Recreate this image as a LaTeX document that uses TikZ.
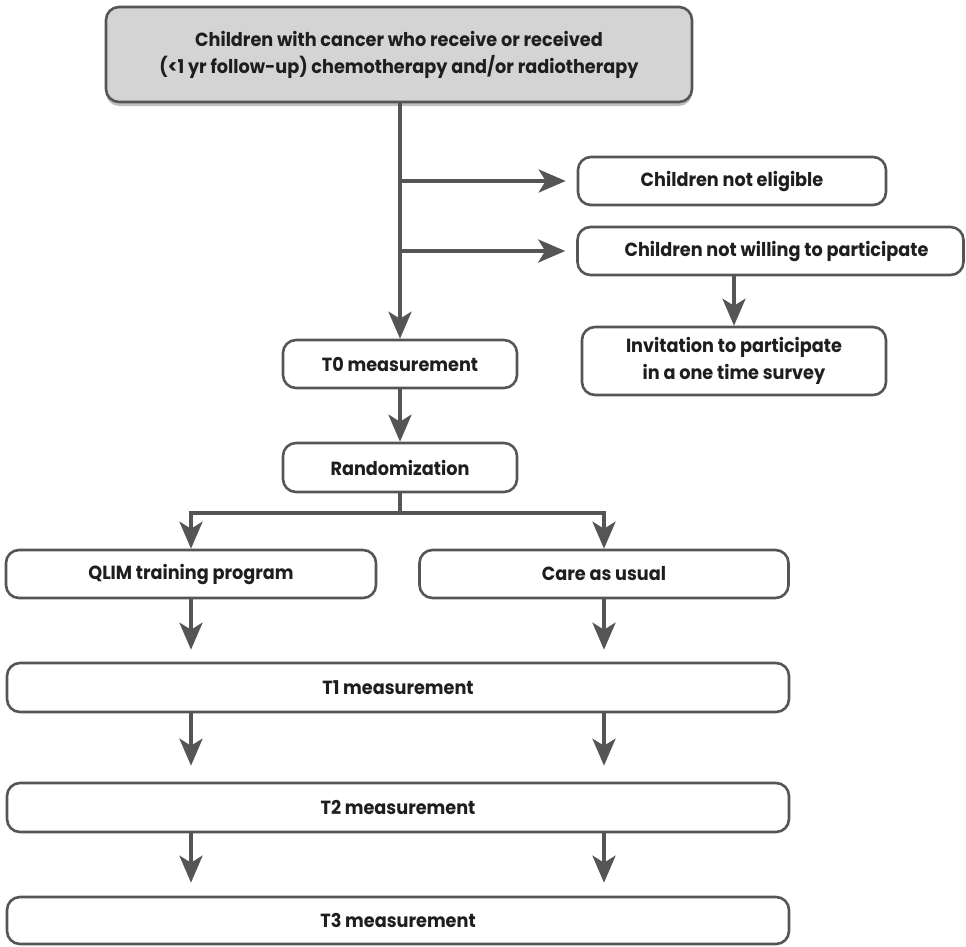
\documentclass[tikz,border=0pt]{standalone}
\usepackage{fontspec}
\newfontfamily\boxfont{Poppins}[FakeStretch=0.93]
\usetikzlibrary{arrows.meta,shadows}
\definecolor{lc}{HTML}{555555}
\definecolor{fillg}{HTML}{D4D4D4}
\definecolor{tc}{HTML}{1E1E1E}
\tikzset{
  box/.style={draw=lc, line width=2.6pt, rounded corners=13pt, fill=white, align=center,
    inner sep=0pt, text=tc, font=\boxfont\bfseries\fontsize{19}{27}\selectfont},
  conn/.style={draw=lc, line width=4pt},
  arr/.style={conn, -{Stealth[length=27pt,width=23pt,inset=7pt]}},
}
\begin{document}
\begin{tikzpicture}[x=1pt,y=-1pt]
\useasboundingbox (0,0) rectangle (966,946);
\node[box, fill=fillg, minimum width=586pt, minimum height=95pt,
  drop shadow={shadow xshift=0pt, shadow yshift=-4pt, opacity=0.25, fill=black}]
  (top) at (399,54.5) {Children with cancer who receive or received\\(<1 yr follow-up) chemotherapy and/or radiotherapy};
\node[box, minimum width=308pt, minimum height=48pt] (elig) at (732,181) {Children not eligible};
\node[box, minimum width=386pt, minimum height=48pt] (will) at (770.5,251) {\hspace*{12pt}Children not willing to participate};
\node[box, minimum width=304pt, minimum height=68pt] (inv) at (734,361) {Invitation to participate\\in a one time survey};
\node[box, minimum width=234pt, minimum height=48pt] (t0) at (400,364) {T0 measurement};
\node[box, minimum width=234pt, minimum height=49pt] (rand) at (400,467.5) {Randomization};
\node[box, minimum width=370pt, minimum height=48pt] (qlim) at (191,574) {QLIM training program};
\node[box, minimum width=369pt, minimum height=48pt] (care) at (604,574) {Care as usual};
\node[box, minimum width=782pt, minimum height=49pt] (t1) at (398,687.5) {T1 measurement};
\node[box, minimum width=782pt, minimum height=49pt] (t2) at (398,807.5) {T2 measurement};
\node[box, minimum width=782pt, minimum height=47pt] (t3) at (398,920.5) {T3 measurement};
\coordinate (br) at (400,513);
% connectors
\draw[arr] (top.south -| t0.north) -- (t0.north);
\draw[arr] (t0.north |- elig.west) -- ([xshift=-11pt]elig.west);
\draw[arr] (t0.north |- will.west) -- ([xshift=-11pt]will.west);
\draw[arr] (inv.north |- will.south) -- (inv.north);
\draw[arr] (t0.south) -- (rand.north);
\draw[conn] (rand.south) -- (br);
\draw[arr] (br) -| (qlim.north);
\draw[arr] (br) -| (care.north);
\draw[arr] (qlim.south) -- ([yshift=12pt]qlim.south |- t1.north);
\draw[arr] (care.south) -- ([yshift=12pt]care.south |- t1.north);
\draw[arr] (qlim.south |- t1.south) -- ([yshift=16pt]qlim.south |- t2.north);
\draw[arr] (care.south |- t1.south) -- ([yshift=16pt]care.south |- t2.north);
\draw[arr] (qlim.south |- t2.south) -- ([yshift=13pt]qlim.south |- t3.north);
\draw[arr] (care.south |- t2.south) -- ([yshift=13pt]care.south |- t3.north);
\end{tikzpicture}
\end{document}
